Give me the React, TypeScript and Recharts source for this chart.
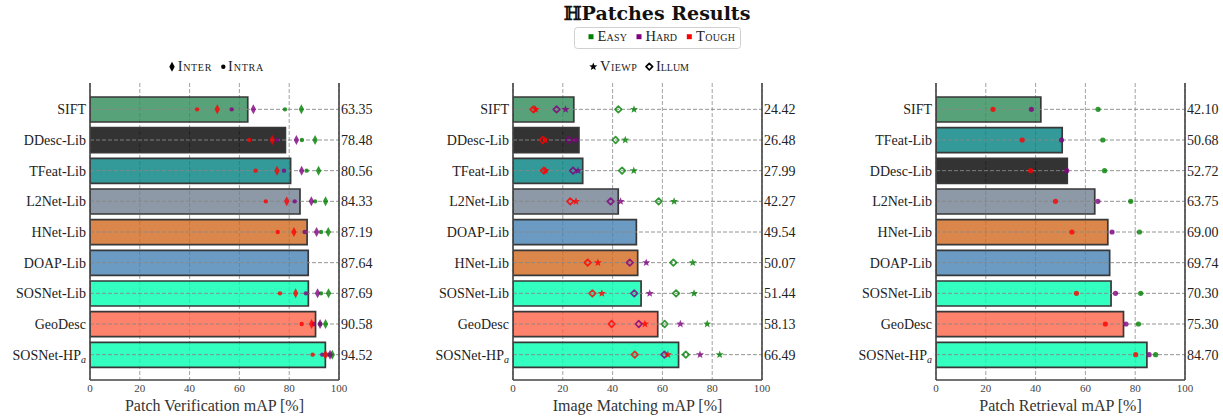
import React from "react";
import { ComposedChart, Bar, Cell, Scatter, XAxis, YAxis, CartesianGrid, ReferenceLine } from "recharts";

// Patch verification
const pvMethods = ["SIFT", "DDesc-Lib", "TFeat-Lib", "L2Net-Lib", "HNet-Lib", "DOAP-Lib", "SOSNet-Lib", "GeoDesc", "SOSNet-HPa"];
const pvMap = [63.35, 78.48, 80.56, 84.33, 87.19, 87.64, 87.69, 90.58, 94.52];
const pvEasyInter = [84.9, 90.4, 91.8, 94.6, 95.7, null, 95.8, 94.6, 97.3];
const pvEasyIntra = [78.3, 85.1, 87.0, 90.4, 92.8, null, 92.8, 92.5, 95.8];
const pvHardInter = [65.6, 82.9, 85.0, 88.9, 91.0, null, 91.4, 92.4, 96.4];
const pvHardIntra = [56.9, 75.1, 77.9, 82.2, 86.2, null, 86.7, 89.9, 93.3];
const pvToughInter = [51.1, 73.2, 75.1, 79.0, 81.9, null, 82.6, 89.0, 94.6];
const pvToughIntra = [43.0, 64.0, 66.5, 70.6, 75.4, null, 76.3, 85.0, 89.4];

// Image matching
const imMethods = ["SIFT", "DDesc-Lib", "TFeat-Lib", "L2Net-Lib", "DOAP-Lib", "HNet-Lib", "SOSNet-Lib", "GeoDesc", "SOSNet-HPa"];
const imMap = [24.42, 26.48, 27.99, 42.27, 49.54, 50.07, 51.44, 58.13, 66.49];
const imEasyViewp = [48.6, 45.1, 48.5, 64.7, null, 72.2, 72.7, 78.0, 83.0];
const imEasyIllum = [42.3, 41.2, 43.8, 58.5, null, 64.4, 65.5, 60.9, 69.4];
const imHardViewp = [21.1, 25.2, 26.1, 43.2, null, 53.5, 54.9, 67.2, 75.1];
const imHardIllum = [17.5, 22.5, 24.1, 39.2, null, 46.9, 48.7, 50.5, 60.8];
const imToughViewp = [9.1, 12.9, 13.0, 25.3, null, 34.1, 35.7, 53.0, 62.2];
const imToughIllum = [8.2, 11.9, 12.4, 23.0, null, 30.0, 31.9, 39.6, 48.9];

// Patch retrieval
const prMethods = ["SIFT", "TFeat-Lib", "DDesc-Lib", "L2Net-Lib", "HNet-Lib", "DOAP-Lib", "SOSNet-Lib", "GeoDesc", "SOSNet-HPa"];
const prMap = [42.1, 50.68, 52.72, 63.75, 69.0, 69.74, 70.3, 75.3, 84.7];
const prEasy = [65.1, 67.0, 67.7, 78.2, 81.7, null, 82.2, 81.3, 88.2];
const prHard = [38.3, 50.4, 52.5, 65.0, 70.7, null, 72.1, 76.3, 85.6];
const prTough = [22.9, 34.6, 38.0, 48.0, 54.6, null, 56.4, 68.0, 80.2];

const xTicks = [0, 20, 40, 60, 80, 100];

const barColors: Record<string, string> = {
  SIFT: "#2E8B57",
  "DDesc-Lib": "#000000",
  "TFeat-Lib": "#008080",
  "L2Net-Lib": "#708090",
  "HNet-Lib": "#D2691E",
  "DOAP-Lib": "#4682B4",
  "SOSNet-Lib": "#00FFB0",
  GeoDesc: "#FF6347",
  "SOSNet-HPa": "#00FFB0",
};

const EASY = "#008000";
const HARD = "#800080";
const TOUGH = "#ff0000";
const FONT = "'Liberation Serif', 'Times New Roman', serif";

type Kind = "dot" | "dotBig" | "thinDiamond" | "star" | "openDiamond";

function starPoints(cx: number, cy: number, R: number, r: number) {
  const pts: string[] = [];
  for (let i = 0; i < 10; i++) {
    const a = -Math.PI / 2 + (i * Math.PI) / 5;
    const rad = i % 2 === 0 ? R : r;
    pts.push(`${cx + rad * Math.cos(a)},${cy + rad * Math.sin(a)}`);
  }
  return pts.join(" ");
}

function drawMarker(kind: Kind, cx: number, cy: number, color: string, op = 0.8) {
  if (kind === "dot") return <circle cx={cx} cy={cy} r={2.2} fill={color} fillOpacity={op} />;
  if (kind === "dotBig") return <circle cx={cx} cy={cy} r={2.6} fill={color} fillOpacity={op} />;
  if (kind === "thinDiamond")
    return (
      <polygon
        points={`${cx},${cy - 5} ${cx + 2.7},${cy} ${cx},${cy + 5} ${cx - 2.7},${cy}`}
        fill={color}
        fillOpacity={op}
      />
    );
  if (kind === "star") return <polygon points={starPoints(cx, cy, 4.2, 1.8)} fill={color} fillOpacity={op} />;
  return (
    <polygon
      points={`${cx},${cy - 3.3} ${cx + 3.3},${cy} ${cx},${cy + 3.3} ${cx - 3.3},${cy}`}
      fill="none"
      stroke={color}
      strokeOpacity={op}
      strokeWidth={1.7}
      strokeLinejoin="round"
    />
  );
}

function makeShape(kind: Kind, color: string, key: string) {
  return (p: any) => {
    if (p.payload == null || p.payload[key] == null || p.cx == null || Number.isNaN(p.cx)) return <g />;
    return drawMarker(kind, p.cx, p.cy, color);
  };
}

type SeriesDef = { key: string; kind: Kind; color: string };

function MethodTick(props: any) {
  const { x, y, payload } = props;
  const v = String(payload.value);
  return (
    <text x={x} y={y} dy={5} textAnchor="end" fontFamily={FONT} fontSize={14} fill="#222">
      {v === "SOSNet-HPa" ? (
        <>
          SOSNet-HP
          <tspan fontStyle="italic" fontSize={10} dy={3}>
            a
          </tspan>
        </>
      ) : (
        v
      )}
    </text>
  );
}

function Panel({
  left,
  rows,
  series,
  title,
}: {
  left: number;
  rows: any[];
  series: SeriesDef[];
  title: string;
}) {
  const lookup: Record<string, number> = {};
  rows.forEach((r) => (lookup[r.name] = r.map));
  const ValueTick = (props: any) => {
    const { x, y, payload } = props;
    return (
      <text x={x} y={y} dy={5} textAnchor="start" fontFamily={FONT} fontSize={14} fill="#222">
        {lookup[payload.value].toFixed(2)}
      </text>
    );
  };
  const spine = { stroke: "#444", strokeWidth: 1.6 };
  return (
    <div style={{ position: "absolute", left, top: 0 }}>
      <ComposedChart
        width={400}
        height={417}
        layout="vertical"
        data={rows}
        margin={{ top: 83, right: 6, bottom: 7, left: 10 }}
      >
        <CartesianGrid horizontal={false} stroke="#999" strokeDasharray="4 2" strokeWidth={0.9} />
        {rows.map((r) => (
          <ReferenceLine key={r.name} y={r.name} stroke="#888" strokeDasharray="4 2" strokeWidth={0.9} />
        ))}
        <XAxis
          type="number"
          domain={[0, 100]}
          ticks={xTicks}
          allowDataOverflow
          height={30}
          tickLine={false}
          tickSize={0}
          tickMargin={4}
          axisLine={spine}
          tick={{ fontFamily: FONT, fontSize: 11, fill: "#444" }}
          label={{
            value: title,
            position: "insideBottom",
            offset: -1,
            style: { fontFamily: FONT, fontSize: 16, fill: "#333", textAnchor: "middle" },
          }}
        />
        <XAxis
          xAxisId="top"
          orientation="top"
          type="number"
          domain={[0, 100]}
          height={0}
          tick={false}
          tickLine={false}
          axisLine={spine}
        />
        <YAxis
          type="category"
          dataKey="name"
          width={80}
          padding={{ top: 11, bottom: 10 }}
          tickLine={false}
          tickSize={0}
          tickMargin={4}
          axisLine={spine}
          tick={<MethodTick />}
          interval={0}
        />
        <YAxis
          yAxisId="r"
          orientation="right"
          type="category"
          dataKey="name"
          width={55}
          padding={{ top: 11, bottom: 10 }}
          tickLine={false}
          tickSize={0}
          tickMargin={2}
          axisLine={spine}
          tick={<ValueTick />}
          interval={0}
        />
        <Bar dataKey="map" barSize={25} isAnimationActive={false} stroke="#383838" strokeWidth={1.7}>
          {rows.map((r) => (
            <Cell key={r.name} fill={barColors[r.name]} fillOpacity={0.8} />
          ))}
        </Bar>
        {series.map((s) => (
          <Scatter
            key={s.key}
            dataKey={s.key}
            isAnimationActive={false}
            shape={makeShape(s.kind, s.color, s.key)}
          />
        ))}
      </ComposedChart>
    </div>
  );
}

const pvRows = pvMethods.map((name, i) => ({
  name,
  map: pvMap[i],
  easyInter: pvEasyInter[i],
  easyIntra: pvEasyIntra[i],
  hardInter: pvHardInter[i],
  hardIntra: pvHardIntra[i],
  toughInter: pvToughInter[i],
  toughIntra: pvToughIntra[i],
}));

const imRows = imMethods.map((name, i) => ({
  name,
  map: imMap[i],
  easyViewp: imEasyViewp[i],
  easyIllum: imEasyIllum[i],
  hardViewp: imHardViewp[i],
  hardIllum: imHardIllum[i],
  toughViewp: imToughViewp[i],
  toughIllum: imToughIllum[i],
}));

const prRows = prMethods.map((name, i) => ({
  name,
  map: prMap[i],
  easy: prEasy[i],
  hard: prHard[i],
  tough: prTough[i],
}));

const pvSeries: SeriesDef[] = [
  { key: "easyInter", kind: "thinDiamond", color: EASY },
  { key: "easyIntra", kind: "dot", color: EASY },
  { key: "hardInter", kind: "thinDiamond", color: HARD },
  { key: "hardIntra", kind: "dot", color: HARD },
  { key: "toughInter", kind: "thinDiamond", color: TOUGH },
  { key: "toughIntra", kind: "dot", color: TOUGH },
];

const imSeries: SeriesDef[] = [
  { key: "easyViewp", kind: "star", color: EASY },
  { key: "easyIllum", kind: "openDiamond", color: EASY },
  { key: "hardViewp", kind: "star", color: HARD },
  { key: "hardIllum", kind: "openDiamond", color: HARD },
  { key: "toughViewp", kind: "star", color: TOUGH },
  { key: "toughIllum", kind: "openDiamond", color: TOUGH },
];

const prSeries: SeriesDef[] = [
  { key: "easy", kind: "dotBig", color: EASY },
  { key: "hard", kind: "dotBig", color: HARD },
  { key: "tough", kind: "dotBig", color: TOUGH },
];

function Legends() {
  const sc = { fontFamily: FONT, fontSize: 14.5, fill: "#222", fontVariant: "small-caps" as const };
  return (
    <svg width={1223} height={417} style={{ position: "absolute", left: 0, top: 0, pointerEvents: "none" }}>
      <text
        x={657}
        y={20}
        textAnchor="middle"
        fontFamily="'DejaVu Serif', serif"
        fontWeight="bold"
        fontSize={19}
        fill="#111"
      >
        ℍPatches Results
      </text>
      <rect x={574.5} y={27.5} width={166} height={21} rx={3} fill="#fff" stroke="#d0d0d0" />
      <rect x={588.5} y={34.2} width={5} height={5} fill={EASY} />
      <text x={597.5} y={41} {...sc} textLength={29.5} lengthAdjust="spacing">Easy</text>
      <rect x={636.5} y={34.2} width={5} height={5} fill={HARD} />
      <text x={645.5} y={41} {...sc} textLength={31.5} lengthAdjust="spacing">Hard</text>
      <rect x={686.8} y={34.2} width={5} height={5} fill={TOUGH} />
      <text x={696} y={41} {...sc} textLength={39} lengthAdjust="spacing">Tough</text>

      {drawMarker("thinDiamond", 172, 66.7, "#000", 1)}
      <text x={177.7} y={71} {...sc} textLength={33.6} lengthAdjust="spacing">Inter</text>
      {drawMarker("dot", 223.3, 66.7, "#000", 1)}
      <text x={228} y={71} {...sc} textLength={35.3} lengthAdjust="spacing">Intra</text>

      {drawMarker("star", 593.3, 66.7, "#000", 1)}
      <text x={600} y={71} {...sc} textLength={36.7} lengthAdjust="spacing">Viewp</text>
      {drawMarker("openDiamond", 649.3, 66.7, "#000", 1)}
      <text x={656} y={71} {...sc} textLength={33} lengthAdjust="spacing">Illum</text>
    </svg>
  );
}

export default function App() {
  return (
    <div
      style={{
        position: "absolute",
        left: 0,
        top: 0,
        width: 1223,
        height: 417,
        overflow: "hidden",
        background: "#fff",
      }}
    >
      <Panel left={0} rows={pvRows} series={pvSeries} title="Patch Verification mAP [%]" />
      <Panel left={423} rows={imRows} series={imSeries} title="Image Matching mAP [%]" />
      <Panel left={846} rows={prRows} series={prSeries} title="Patch Retrieval mAP [%]" />
      <Legends />
    </div>
  );
}
